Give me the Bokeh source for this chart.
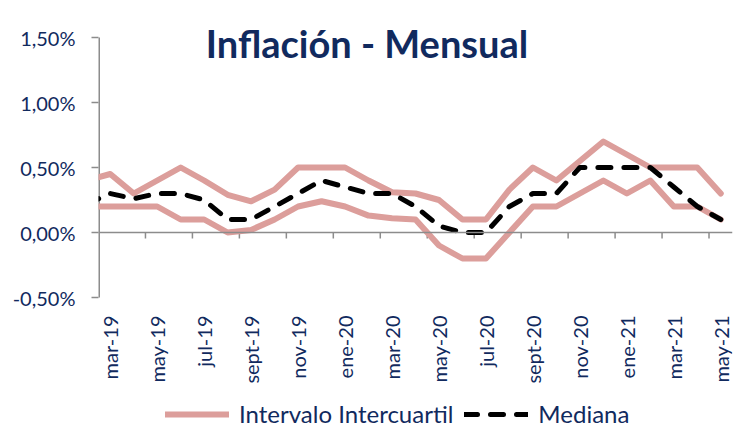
import math
from bokeh.plotting import figure
from bokeh.models import (Range1d, FixedTicker, Legend, LegendItem, Label, Span,
                          ColumnDataSource)
from bokeh.core.properties import value
from bokeh.embed import file_html
from bokeh.resources import INLINE

months = ["feb-19", "mar-19", "abr-19", "may-19", "jun-19", "jul-19", "ago-19",
          "sept-19", "oct-19", "nov-19", "dic-19", "ene-20", "feb-20", "mar-20",
          "abr-20", "may-20", "jun-20", "jul-20", "ago-20", "sept-20", "oct-20",
          "nov-20", "dic-20", "ene-21", "feb-21", "mar-21", "abr-21", "may-21"]
q3 = [0.40, 0.45, 0.30, 0.40, 0.50, 0.40, 0.29, 0.24, 0.33, 0.50, 0.50, 0.50,
      0.40, 0.31, 0.30, 0.25, 0.10, 0.10, 0.33, 0.50, 0.40, 0.55, 0.70, 0.60,
      0.50, 0.50, 0.50, 0.30]
q1 = [0.20, 0.20, 0.20, 0.20, 0.10, 0.10, 0.00, 0.02, 0.10, 0.20, 0.24, 0.20,
      0.13, 0.11, 0.10, -0.10, -0.20, -0.20, 0.00, 0.20, 0.20, 0.30, 0.40, 0.30,
      0.40, 0.20, 0.20, 0.10]
mediana = [0.22, 0.30, 0.26, 0.30, 0.30, 0.25, 0.10, 0.10, 0.20, 0.30, 0.40, 0.35,
           0.30, 0.30, 0.20, 0.05, 0.00, 0.00, 0.20, 0.30, 0.30, 0.50, 0.50, 0.50,
           0.50, 0.35, 0.20, 0.10]
y_ticks = [-0.5, 0.0, 0.5, 1.0, 1.5]
y_tick_labels = ["-0,50%", "0,00%", "0,50%", "1,00%", "1,50%"]
title_text = "Inflación - Mensual"
series_names = ["Intervalo Intercuartil", "Mediana"]

NAVY = "#112a5e"
PINK = "#dc9e9b"
GRAY = "#8c8c8c"
FONT = "Lato"

# layout (pixels)
W, H = 734, 428
FRAME_LEFT, FRAME_W = 98, 634
PX_PER_UNIT = 130.0          # pixels per 1 percentage point
TOP_GAP = 37                 # space above the 1,50% tick
BOTTOM_GAP = 131             # space below the -0,50% tick (month labels, legend)
LABEL_GAP = 18               # gap between -0,50% level and month labels

x = list(range(len(months)))
first = 1  # mar-19 is the first shown month
label_idx = list(range(first, len(months), 2))
boundaries = [i + 0.5 for i in range(first + 1, len(months) - 1, 2)]
x_start, x_end = first - 0.5, len(months) - 0.5
y_start = y_ticks[0] - BOTTOM_GAP / PX_PER_UNIT
y_end = y_ticks[-1] + TOP_GAP / PX_PER_UNIT
px_per_cat = FRAME_W / (x_end - x_start)

p = figure(frame_width=FRAME_W, frame_height=H, output_backend="svg",
           toolbar_location=None, title=None, x_axis_location=None,
           x_range=Range1d(x_start, x_end), y_range=Range1d(y_start, y_end),
           min_border_left=FRAME_LEFT, min_border_right=W - FRAME_LEFT - FRAME_W,
           min_border_top=0, min_border_bottom=0)
p.outline_line_color = None
p.xgrid.visible = False
p.ygrid.visible = False
p.background_fill_color = "white"
p.border_fill_color = "white"

# y axis (ticks and labels; the axis line itself is drawn between the end ticks)
p.yaxis.ticker = FixedTicker(ticks=y_ticks)
p.yaxis.major_label_overrides = {t: l for t, l in zip(y_ticks, y_tick_labels)}
p.yaxis.axis_line_color = None
p.yaxis.major_tick_line_color = GRAY
p.yaxis.major_tick_line_width = 1.5
p.yaxis.major_tick_out = 7
p.yaxis.major_tick_in = 0
p.yaxis.minor_tick_line_color = None
p.yaxis.major_label_standoff = 16
p.yaxis.major_label_text_font = FONT
p.yaxis.major_label_text_font_size = "20px"
p.yaxis.major_label_text_color = NAVY
p.segment(x0=[x_start], x1=[x_start], y0=[y_ticks[0]], y1=[y_ticks[-1]],
          line_color=GRAY, line_width=3)

# category axis at zero: line, tick marks between every second month, labels
zero = Span(location=0, dimension="width", line_color=GRAY, line_width=1.5)
p.add_layout(zero)
tick_len = 6 / PX_PER_UNIT
p.segment(x0=boundaries, x1=boundaries, y0=[0] * len(boundaries),
          y1=[-tick_len] * len(boundaries), line_color=GRAY, line_width=1.5)

label_y = y_ticks[0] - LABEL_GAP / PX_PER_UNIT
lab_src = ColumnDataSource(dict(x=label_idx, y=[label_y] * len(label_idx),
                                text=[months[i] for i in label_idx]))
p.text(x="x", y="y", text="text", source=lab_src, angle=math.pi / 2,
       text_align="right", text_baseline="middle", text_font=value(FONT),
       text_font_size=value("20px"), text_color=NAVY)

r_q3 = p.line(x, q3, line_color=PINK, line_width=6, line_join="round",
              line_cap="round")
r_q1 = p.line(x, q1, line_color=PINK, line_width=6, line_join="round",
              line_cap="round")
r_med = p.line(x, mediana, line_color="black", line_width=5, line_dash="13 13",
               line_cap="round", line_join="round")

title_x = x_start + (366.5 - FRAME_LEFT) / px_per_cat
title_y = y_ticks[-1] - 5 / PX_PER_UNIT
title = Label(x=title_x, y=title_y, text=title_text, text_align="center",
              text_baseline="alphabetic", text_font=FONT, text_font_style="bold",
              text_font_size="38px", text_color=NAVY)
p.add_layout(title)

legend = Legend(items=[LegendItem(label=series_names[0], renderers=[r_q3]),
                       LegendItem(label=series_names[1], renderers=[r_med])],
                orientation="horizontal", location=(67, 0),
                glyph_width=64, glyph_height=24, label_height=24,
                label_standoff=10, spacing=11,
                label_text_font=FONT, label_text_font_size="24px",
                label_text_color=NAVY, border_line_color=None,
                background_fill_alpha=0, padding=0, margin=0)
p.add_layout(legend, "center")

open("out.html", "w").write(file_html(p, INLINE))
